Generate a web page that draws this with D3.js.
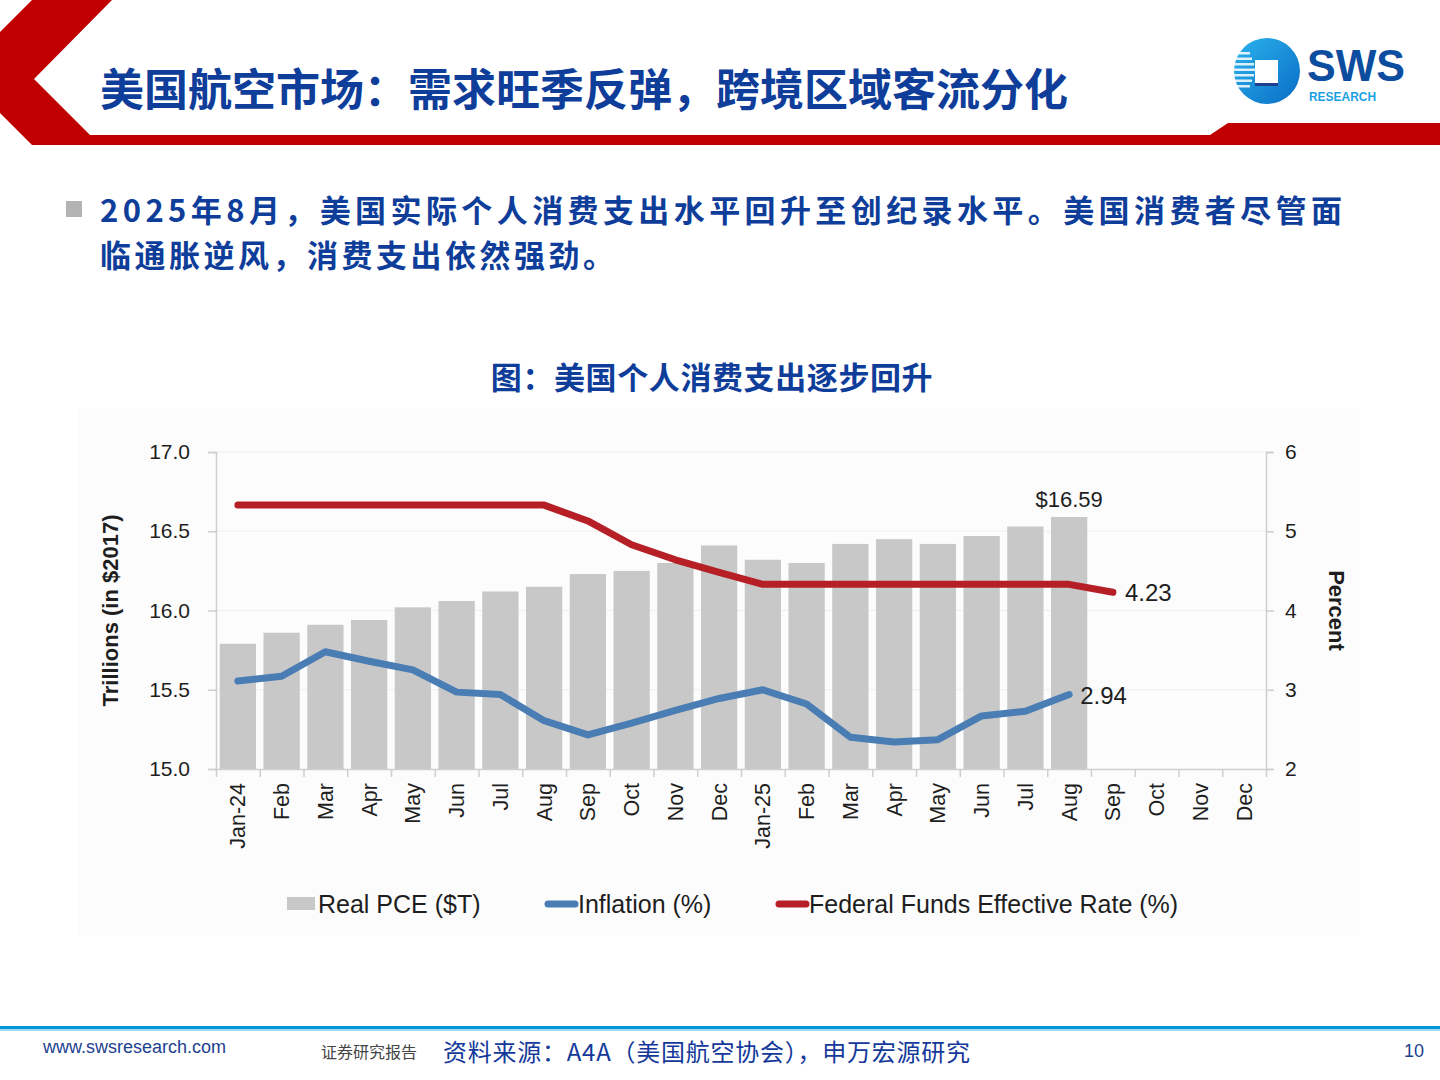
<!DOCTYPE html>
<html>
<head>
<meta charset="utf-8">
<script src="https://cdn.jsdelivr.net/npm/d3@7"></script>
<style>
  body { margin: 0; background: #fff; }
  svg { display: block; }
  .cn { font-family: "Noto Sans CJK SC", sans-serif; }
  .en { font-family: "Liberation Sans", Arial, sans-serif; }
</style>
</head>
<body>
<div id="page"></div>
<script>
const months = ["Jan-24","Feb","Mar","Apr","May","Jun","Jul","Aug","Sep","Oct","Nov","Dec",
                "Jan-25","Feb","Mar","Apr","May","Jun","Jul","Aug","Sep","Oct","Nov","Dec"];
const realPce = [15.79,15.86,15.91,15.94,16.02,16.06,16.12,16.15,16.23,16.25,16.30,16.41,
                 16.32,16.30,16.42,16.45,16.42,16.47,16.53,16.59];
const inflation = [3.11,3.17,3.48,3.36,3.25,2.97,2.94,2.61,2.43,2.58,2.74,2.89,
                   3.00,2.82,2.40,2.34,2.37,2.67,2.73,2.94];
const fedRate = [5.33,5.33,5.33,5.33,5.33,5.33,5.33,5.33,5.13,4.83,4.64,4.48,
                 4.33,4.33,4.33,4.33,4.33,4.33,4.33,4.33,4.23];
const leftTicks = [15.0,15.5,16.0,16.5,17.0];
const rightTicks = [2,3,4,5,6];
const legendItems = ["Real PCE ($T)","Inflation (%)","Federal Funds Effective Rate (%)"];

const W = 1440, H = 1080;
const RED = "#c00000", NAVY = "#0e3d9a";
const BAR = "#c8c8c8", BLUE = "#4a7db4", FED = "#b51f25";

const svg = d3.select("#page").append("svg")
  .attr("width", W).attr("height", H);

// ---- header ----
svg.append("polygon")
  .attr("points", [[32,0],[112,0],[34,79],[90,135],[1210,135],[1228,123],[1440,123],
                   [1440,145],[32,145],[0,113],[0,32]].map(p => p.join(",")).join(" "))
  .attr("fill", RED);

svg.append("text").attr("class", "cn")
  .attr("x", 100).attr("y", 106)
  .attr("font-size", 44).attr("font-weight", 700).attr("fill", NAVY)
  .text("美国航空市场：需求旺季反弹，跨境区域客流分化");

// logo
const defs = svg.append("defs");
const lg = defs.append("linearGradient").attr("id", "logoGrad")
  .attr("x1", "0%").attr("y1", "0%").attr("x2", "100%").attr("y2", "100%");
lg.append("stop").attr("offset", "0%").attr("stop-color", "#2ab4ee");
lg.append("stop").attr("offset", "100%").attr("stop-color", "#0a6cc4");
const logo = svg.append("g");
logo.append("circle").attr("cx", 1267).attr("cy", 71).attr("r", 33).attr("fill", "url(#logoGrad)");
d3.range(7).forEach(i => {
  logo.append("rect").attr("x", 1234).attr("y", 52 + i * 5.5)
    .attr("width", 22 - Math.abs(i - 3) * 2).attr("height", 2.5).attr("fill", "#fff").attr("opacity", 0.85);
});
logo.append("rect").attr("x", 1255).attr("y", 60).attr("width", 23).attr("height", 23).attr("fill", "#fff");
logo.append("rect").attr("x", 1255).attr("y", 83).attr("width", 23).attr("height", 3).attr("fill", "#1d3f91");
logo.append("text").attr("class", "en")
  .attr("x", 1307).attr("y", 81).attr("font-size", 44).attr("font-weight", 700)
  .attr("fill", "#0d4da0").attr("textLength", 98).attr("lengthAdjust", "spacingAndGlyphs")
  .text("SWS");
logo.append("text").attr("class", "en")
  .attr("x", 1309).attr("y", 101).attr("font-size", 12).attr("font-weight", 700)
  .attr("fill", "#1ba1e2").attr("textLength", 67).attr("lengthAdjust", "spacingAndGlyphs")
  .text("RESEARCH");

// ---- bullet text ----
svg.append("rect").attr("x", 66).attr("y", 201).attr("width", 16).attr("height", 16).attr("fill", "#b3b3b3");
svg.append("text").attr("class", "cn")
  .attr("x", 100).attr("y", 222).attr("font-size", 31).attr("font-weight", 700).attr("fill", NAVY)
  .attr("textLength", 1242).attr("lengthAdjust", "spacing")
  .text("2025年8月，美国实际个人消费支出水平回升至创纪录水平。美国消费者尽管面");
svg.append("text").attr("class", "cn")
  .attr("x", 100).attr("y", 267).attr("font-size", 31).attr("font-weight", 700).attr("fill", NAVY)
  .attr("letter-spacing", 3.5)
  .text("临通胀逆风，消费支出依然强劲。");

// ---- chart title ----
svg.append("text").attr("class", "cn")
  .attr("x", 712).attr("y", 389).attr("text-anchor", "middle")
  .attr("font-size", 31).attr("font-weight", 700).attr("fill", NAVY)
  .attr("letter-spacing", 0.6)
  .text("图：美国个人消费支出逐步回升");

// ---- chart ----
svg.append("rect").attr("x", 78).attr("y", 408).attr("width", 1282).attr("height", 528).attr("fill", "#fcfcfc");

const PL = 216, PR = 1266, PT = 452, PB = 769;
const x = d3.scaleBand().domain(d3.range(months.length)).range([PL, PR])
  .paddingInner(0.17).paddingOuter(0.085);
const xEdge = d3.scaleLinear().domain([0, months.length]).range([PL, PR]);
const yL = d3.scaleLinear().domain([15, 17]).range([PB, PT]);
const yR = d3.scaleLinear().domain([2, 6]).range([PB, PT]);
const cx = i => x(i) + x.bandwidth() / 2;

// gridlines
svg.append("g").selectAll("line").data(leftTicks.slice(1)).join("line")
  .attr("x1", PL).attr("x2", PR).attr("y1", d => yL(d)).attr("y2", d => yL(d))
  .attr("stroke", "#efefef").attr("stroke-width", 1);

// bars
svg.append("g").selectAll("rect").data(realPce).join("rect")
  .attr("x", (d, i) => x(i)).attr("width", x.bandwidth())
  .attr("y", d => yL(d)).attr("height", d => PB - yL(d))
  .attr("fill", BAR);

// axes
function styleAxis(g) {
  g.select(".domain").attr("stroke", "#cfcfcf").attr("stroke-width", 1.5);
  g.selectAll(".tick line").attr("stroke", "#cfcfcf").attr("stroke-width", 1.5);
  g.selectAll("text").attr("fill", "#1e1e1e").attr("font-family", "Liberation Sans, Arial, sans-serif");
}

svg.append("g").attr("transform", `translate(${PL},0)`)
  .call(d3.axisLeft(yL).tickValues(leftTicks).tickFormat(d3.format(".1f")).tickSize(8).tickPadding(18))
  .call(styleAxis)
  .selectAll("text").attr("font-size", 21);

svg.append("g").attr("transform", `translate(${PR},0)`)
  .call(d3.axisRight(yR).tickValues(rightTicks).tickFormat(d3.format("d")).tickSize(8).tickPadding(11))
  .call(styleAxis)
  .selectAll("text").attr("font-size", 21);

svg.append("g").attr("transform", `translate(0,${PB})`)
  .call(d3.axisBottom(xEdge).tickValues(d3.range(months.length + 1)).tickFormat("").tickSize(8).tickSizeOuter(0))
  .call(styleAxis);

const xLab = svg.append("g").attr("transform", `translate(0,${PB})`)
  .call(d3.axisBottom(x).tickFormat(i => months[i]).tickSize(0).tickPadding(0));
xLab.select(".domain").remove();
xLab.selectAll("text")
  .attr("font-size", 21.5).attr("fill", "#1e1e1e")
  .attr("font-family", "Liberation Sans, Arial, sans-serif")
  .attr("text-anchor", "end")
  .attr("transform", "translate(0,14) rotate(-90)")
  .attr("x", 0).attr("y", 0).attr("dy", "0.35em");

// lines
const seriesLine = d3.line().x((d, i) => cx(i)).y(d => yR(d));
svg.append("path").datum(fedRate).attr("d", seriesLine)
  .attr("fill", "none").attr("stroke", FED).attr("stroke-width", 7)
  .attr("stroke-linecap", "round").attr("stroke-linejoin", "round");
svg.append("path").datum(inflation).attr("d", seriesLine)
  .attr("fill", "none").attr("stroke", BLUE).attr("stroke-width", 7)
  .attr("stroke-linecap", "round").attr("stroke-linejoin", "round");

// value labels
const lastP = realPce.length - 1, lastI = inflation.length - 1, lastF = fedRate.length - 1;
svg.append("text").attr("class", "en")
  .attr("x", cx(lastP)).attr("y", yL(realPce[lastP]) - 10).attr("text-anchor", "middle")
  .attr("font-size", 22).attr("fill", "#1e1e1e")
  .text("$" + d3.format(".2f")(realPce[lastP]));
svg.append("text").attr("class", "en")
  .attr("x", cx(lastF) + 12).attr("y", yR(fedRate[lastF])).attr("dy", "0.35em")
  .attr("font-size", 24).attr("fill", "#1e1e1e")
  .text(d3.format(".2f")(fedRate[lastF]));
svg.append("text").attr("class", "en")
  .attr("x", cx(lastI) + 11).attr("y", yR(inflation[lastI])).attr("dy", "0.4em")
  .attr("font-size", 24).attr("fill", "#1e1e1e")
  .text(d3.format(".2f")(inflation[lastI]));

// axis titles
svg.append("text").attr("class", "en")
  .attr("transform", `translate(118,${(PT + PB) / 2}) rotate(-90)`)
  .attr("text-anchor", "middle").attr("font-size", 22).attr("font-weight", 700).attr("fill", "#1e1e1e")
  .text("Trillions (in $2017)");
svg.append("text").attr("class", "en")
  .attr("transform", `translate(1329,${(PT + PB) / 2}) rotate(90)`)
  .attr("text-anchor", "middle").attr("font-size", 22).attr("font-weight", 700).attr("fill", "#1e1e1e")
  .text("Percent");

// legend
const LY = 904;
const legX = [287, 545, 776];
svg.append("rect").attr("x", legX[0]).attr("y", LY - 7).attr("width", 28).attr("height", 13).attr("fill", BAR);
[BLUE, FED].forEach((c, k) => {
  svg.append("line").attr("x1", legX[k + 1] + 3).attr("x2", legX[k + 1] + 30)
    .attr("y1", LY).attr("y2", LY)
    .attr("stroke", c).attr("stroke-width", 7).attr("stroke-linecap", "round");
});
legendItems.forEach((t, k) => {
  svg.append("text").attr("class", "en")
    .attr("x", legX[k] + (k === 0 ? 31 : 33)).attr("y", LY).attr("dy", "0.35em")
    .attr("font-size", 25).attr("fill", "#1e1e1e")
    .text(t);
});

// ---- footer ----
svg.append("rect").attr("x", 0).attr("y", 1026).attr("width", W).attr("height", 3).attr("fill", "#0098d8");
svg.append("rect").attr("x", 0).attr("y", 1029).attr("width", W).attr("height", 2).attr("fill", "#9fd8f2");
svg.append("text").attr("class", "en")
  .attr("x", 43).attr("y", 1053).attr("font-size", 18).attr("fill", "#1d3f91")
  .text("www.swsresearch.com");
svg.append("text").attr("class", "cn")
  .attr("x", 321).attr("y", 1058).attr("font-size", 16).attr("fill", "#444")
  .text("证券研究报告");
svg.append("text").attr("class", "cn")
  .attr("x", 443).attr("y", 1061).attr("font-size", 24).attr("fill", "#14399a")
  .attr("textLength", 527).attr("lengthAdjust", "spacing")
  .text("资料来源：A4A（美国航空协会），申万宏源研究");
svg.append("text").attr("class", "en")
  .attr("x", 1424).attr("y", 1057).attr("text-anchor", "end").attr("font-size", 18).attr("fill", "#1d3f91")
  .text("10");
</script>
</body>
</html>
